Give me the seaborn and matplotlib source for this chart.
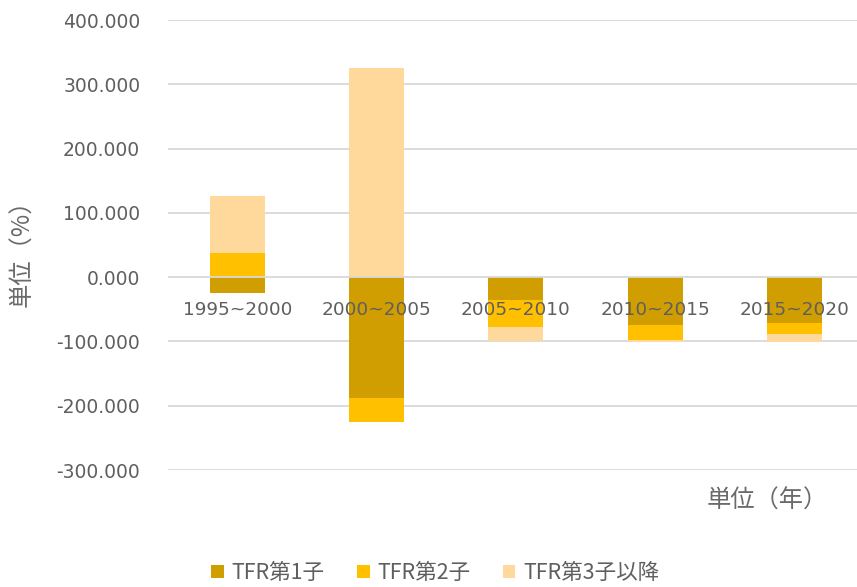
import numpy as np
import pandas as pd
import matplotlib
matplotlib.use("Agg")
import matplotlib.pyplot as plt
import seaborn as sns

categories = ["1995~2000", "2000~2005", "2005~2010", "2010~2015", "2015~2020"]
series_names = ["TFR第1子", "TFR第2子", "TFR第3子以降"]
tfr1 = [-25, -188, -35, -74, -71]
tfr2 = [37, -38, -43, -24, -17]
tfr3 = [89, 325, -22, -3, -13]
yticks = [-300, -200, -100, 0, 100, 200, 300, 400]
colors = ["#D09E00", "#FFC000", "#FFD89B"]

sns.set_theme(style="white")
plt.rcParams["font.family"] = ["DejaVu Sans", "Noto Sans CJK JP"]

W, H = 857, 587
fig = plt.figure(figsize=(W / 100, H / 100), dpi=100)
left, right, top, bottom = 168, 857, 20, 470
ax = fig.add_axes([left / W, 1 - bottom / H, (right - left) / W, (bottom - top) / H])

pos_base = np.zeros(len(categories))
neg_base = np.zeros(len(categories))
for name, vals, col in zip(series_names, [tfr1, tfr2, tfr3], colors):
    vals = np.array(vals, dtype=float)
    base = np.where(vals >= 0, pos_base, neg_base)
    df = pd.DataFrame({"cat": categories, "val": vals})
    sns.barplot(data=df, x="cat", y="val", order=categories, color=col,
                saturation=1, width=0.395, errorbar=None, bottom=base,
                label=name, ax=ax, zorder=2, linewidth=0, edgecolor="none")
    pos_base = pos_base + np.where(vals >= 0, vals, 0)
    neg_base = neg_base + np.where(vals < 0, vals, 0)

handles, labels = ax.get_legend_handles_labels()
if ax.get_legend() is not None:
    ax.get_legend().remove()

ax.set_ylim(-300, 400)
ax.set_xlim(-0.5, 4.45)
ax.set_yticks(yticks)
ax.set_yticklabels([f"{v:.3f}" for v in yticks])
ax.grid(False)
for v in yticks:
    if v == 0:
        ax.axhline(v, color="#D9D9D9", linewidth=1.3, zorder=2.2)
    else:
        ax.axhline(v, color="#D9D9D9", linewidth=1.3, zorder=1)
ax.set_axisbelow(False)
for s in ["left", "right", "top"]:
    ax.spines[s].set_visible(False)
ax.spines["bottom"].set_position(("data", 0))
ax.spines["bottom"].set_visible(False)
ax.tick_params(axis="x", length=0, pad=17, labelsize=13.3, labelcolor="#5F5F5F")
ax.tick_params(axis="y", length=0, pad=20, labelsize=13.5, labelcolor="#5F5F5F")
ax.set_xlabel("")
ax.set_ylabel("")

fig.text(22 / W, 1 - 247 / H, "単位（%）", rotation=90, ha="center", va="center",
         fontsize=17.5, color="#6A6A6A", family=["Noto Sans CJK JP", "DejaVu Sans"])
fig.text(767 / W, 1 - 501 / H, "単位（年）", ha="center", va="center",
         fontsize=17.5, color="#6A6A6A", family=["Noto Sans CJK JP", "DejaVu Sans"])

fig.legend(handles, labels, loc="center", bbox_to_anchor=(435 / W, 1 - 573 / H),
           ncol=3, frameon=False, labelcolor="#5F5F5F",
           prop={"family": ["Noto Sans CJK JP", "DejaVu Sans"], "size": 15.5},
           handlelength=0.6, handleheight=0.6, handletextpad=0.35, columnspacing=1.5)

fig.savefig("out.png", dpi=100)
